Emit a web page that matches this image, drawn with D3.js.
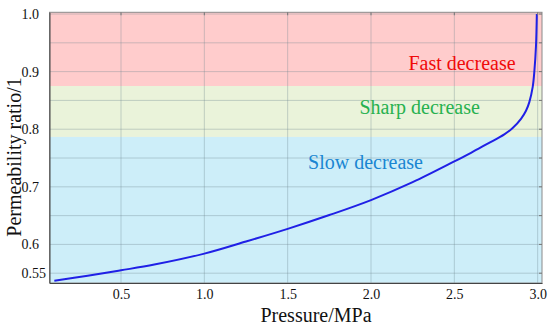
<!DOCTYPE html>
<html>
<head>
<meta charset="utf-8">
<script src="https://cdn.jsdelivr.net/npm/d3@7"></script>
<style>
  html, body { margin: 0; padding: 0; background: #fff; }
  svg { display: block; }
  svg text { font-family: "Times New Roman", "Liberation Serif", Tinos, "DejaVu Serif", serif !important; }
</style>
</head>
<body>
<svg id="chart" width="550" height="328"></svg>
<script>
// ---- data ----
const pressure = [0.1, 0.3, 0.5, 0.7, 1.0, 1.25, 1.5, 1.75, 2.0, 2.25, 2.5, 2.6, 2.7, 2.8, 2.85, 2.9, 2.93, 2.95, 2.97, 2.98, 2.99, 2.995];
const ratio    = [0.537, 0.5455, 0.555, 0.565, 0.584, 0.605, 0.627, 0.651, 0.677, 0.708, 0.744, 0.759, 0.775, 0.791, 0.802, 0.818, 0.832, 0.847, 0.873, 0.900, 0.945, 1.0];
const xTicks = [0.5, 1.0, 1.5, 2.0, 2.5, 3.0];
const xTickLabels = ["0.5", "1.0", "1.5", "2.0", "2.5", "3.0"];
const yTicks = [1.0, 0.9, 0.8, 0.7, 0.6, 0.55];
const yTickLabels = ["1.0", "0.9", "0.8", "0.7", "0.6", "0.55"];
const yGrid = [0.55, 0.6, 0.65, 0.7, 0.75, 0.8, 0.85, 0.9, 0.95, 1.0];
const zoneNames = ["Fast decrease", "Sharp decrease", "Slow decrease"];
const zoneLow  = [0.875, 0.7866, 0.533];
const zoneHigh = [1.003, 0.875, 0.7866];
const zoneLabelX = [2.546, 2.292, 1.967];
const zoneLabelY = [0.903, 0.8265, 0.731];
const zoneFill = ["#ffcccc", "#eaf3da", "#cdeef9"];
const zoneText = ["#f00a0a", "#27b14f", "#1a86d2"];

// ---- layout ----
const svg = d3.select("#chart");
const L = 49.5, R = 542, T = 12.3, B = 283;
const x = d3.scaleLinear().domain([0.071, 3.026]).range([L, R]);
const y = d3.scaleLinear().domain([0.533, 1.003]).range([B, T]);

// bands
svg.append("g").selectAll("rect").data(zoneNames).join("rect")
  .attr("x", L)
  .attr("width", R - L)
  .attr("y", (d, i) => y(zoneHigh[i]))
  .attr("height", (d, i) => y(zoneLow[i]) - y(zoneHigh[i]))
  .attr("fill", (d, i) => zoneFill[i]);

// grid
const grid = svg.append("g").attr("stroke", "#6f8790").attr("stroke-opacity", 0.35).attr("stroke-width", 1);
grid.selectAll("line.h").data(yGrid).join("line").attr("class", "h")
  .attr("x1", L).attr("x2", R)
  .attr("y1", d => y(d)).attr("y2", d => y(d));
grid.selectAll("line.v").data(xTicks).join("line").attr("class", "v")
  .attr("y1", T).attr("y2", B)
  .attr("x1", d => x(d)).attr("x2", d => x(d));

// zone labels
svg.append("g").selectAll("text").data(zoneNames).join("text")
  .attr("x", (d, i) => x(zoneLabelX[i]))
  .attr("y", (d, i) => y(zoneLabelY[i]))
  .attr("text-anchor", "middle")
  .attr("font-size", 20)
  .attr("fill", (d, i) => zoneText[i])
  .text(d => d);

// curve
const pts = pressure.map((p, i) => [p, ratio[i]]);
svg.append("path")
  .datum(pts)
  .attr("fill", "none")
  .attr("stroke", "#2020e6")
  .attr("stroke-width", 2)
  .attr("d", d3.line().x(d => x(d[0])).y(d => y(d[1])).curve(d3.curveCatmullRom.alpha(0.5)));

// frame
svg.append("rect").attr("x", L).attr("y", T).attr("width", R - L).attr("height", B - T)
  .attr("fill", "none").attr("stroke", "#8a8a8a").attr("stroke-width", 1);

// axes
const xAxis = d3.axisBottom(x).tickValues(xTicks).tickFormat((d, i) => xTickLabels[i]).tickSize(0).tickPadding(6);
const gx = svg.append("g").attr("transform", `translate(0,${B})`).call(xAxis);
gx.attr("font-family", null);
gx.select(".domain").attr("stroke", "#444");
gx.selectAll("text").attr("font-size", 14).attr("fill", "#111");

const yAxis = d3.axisLeft(y).tickValues(yTicks).tickFormat((d, i) => yTickLabels[i]).tickSize(0).tickPadding(4);
const gy = svg.append("g").attr("transform", `translate(${L},0)`).call(yAxis);
gy.attr("font-family", null);
gy.select(".domain").attr("stroke", "#444");
gy.selectAll("text").attr("font-size", 14).attr("fill", "#111")
  .attr("text-anchor", "start").attr("x", 21.5 - L);

// inward ticks on right and top
svg.append("g").selectAll("line").data(yGrid).join("line")
  .attr("x1", R - 3).attr("x2", R).attr("y1", d => y(d)).attr("y2", d => y(d))
  .attr("stroke", "#777");
svg.append("g").selectAll("line").data(xTicks).join("line")
  .attr("y1", T).attr("y2", T + 3).attr("x1", d => x(d)).attr("x2", d => x(d))
  .attr("stroke", "#777");

// titles
svg.append("text").attr("x", 316).attr("y", 322).attr("text-anchor", "middle")
  .attr("font-size", 20).attr("fill", "#111").text("Pressure/MPa");
svg.append("text").attr("transform", "translate(21,157) rotate(-90)")
  .attr("text-anchor", "middle").attr("font-size", 20).attr("fill", "#111")
  .text("Permeability ratio/1");
</script>
</body>
</html>
